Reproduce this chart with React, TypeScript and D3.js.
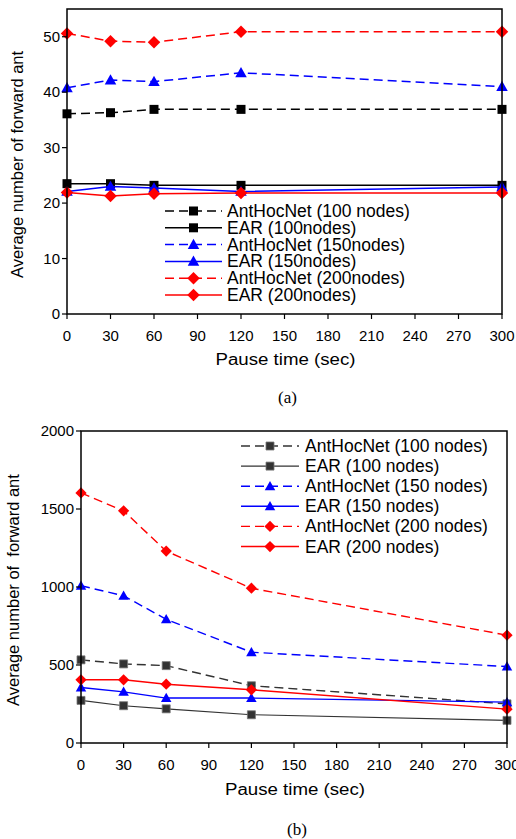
import * as d3 from 'd3';

const PAUSE = [0, 30, 60, 120, 300];
const X_TICKS = [0, 30, 60, 90, 120, 150, 180, 210, 240, 270, 300];

// (a) top panel
const A_ANT100 = [36.1, 36.3, 36.9, 36.9, 36.9];
const A_EAR100 = [23.5, 23.5, 23.2, 23.2, 23.2];
const A_ANT150 = [40.8, 42.2, 41.9, 43.5, 41.0];
const A_EAR150 = [22.1, 23.0, 22.7, 22.1, 22.9];
const A_ANT200 = [50.6, 49.2, 49.0, 50.9, 50.9];
const A_EAR200 = [21.9, 21.3, 21.7, 21.8, 21.8];
const A_Y_TICKS = [0, 10, 20, 30, 40, 50];
const A_LABELS = [
  'AntHocNet (100 nodes)', 'EAR (100nodes)', 'AntHocNet (150nodes)',
  'EAR (150nodes)', 'AntHocNet (200nodes)', 'EAR (200nodes)',
];

// (b) bottom panel
const B_ANT100 = [533, 507, 496, 367, 251];
const B_EAR100 = [273, 239, 219, 181, 145];
const B_ANT150 = [1008, 944, 793, 582, 490];
const B_EAR150 = [356, 328, 288, 288, 262];
const B_ANT200 = [1603, 1488, 1230, 992, 691];
const B_EAR200 = [405, 405, 377, 341, 217];
const B_Y_TICKS = [0, 500, 1000, 1500, 2000];
const B_LABELS = [
  'AntHocNet (100 nodes)', 'EAR (100 nodes)', 'AntHocNet (150 nodes)',
  'EAR (150 nodes)', 'AntHocNet (200 nodes)', 'EAR (200 nodes)',
];

const SANS = '"Liberation Sans", Arial, sans-serif';
const SERIF = '"Liberation Serif", "Times New Roman", serif';

type Series = { vals: number[]; color: string; dashed: boolean; shape: string; width: number; stroke?: string };

function marker(shape: string, s: number) {
  if (shape === 'square') return `M${-s},${-s}H${s}V${s}H${-s}Z`;
  if (shape === 'tri') return `M0,${-s * 1.05}L${s * 1.05},${s * 0.8}L${-s * 1.05},${s * 0.8}Z`;
  return `M0,${-s * 1.25}L${s * 1.25},0L0,${s * 1.25}L${-s * 1.25},0Z`;
}

function Panel(props: {
  series: Series[]; labels: string[]; yTicks: number[]; yMax: number;
  left: number; right: number; top: number; bottom: number;
  mSize: number[]; legend: { x1: number; x2: number; tx: number; y0: number; dy: number };
  yTitle: string; yTitleX: number; xTitleY: number; caption: string; captionY: number;
}) {
  const { series, labels, yTicks, left, right, top, bottom, legend } = props;
  const x = d3.scaleLinear().domain([0, 300]).range([left, right]);
  const y = d3.scaleLinear().domain([0, props.yMax]).range([bottom, top]);
  const line = d3.line<number>().x((_, i) => x(PAUSE[i])).y(d => y(d));
  const sizes: Record<string, number> = { square: props.mSize[0], tri: props.mSize[1], diamond: props.mSize[2] };

  return (
    <g>
      {series.map((s, k) => (
        <g key={k}>
          <path d={line(s.vals) || ''} fill="none" stroke={s.color} strokeWidth={s.width}
            strokeDasharray={s.dashed ? '9,5' : undefined} />
          {s.vals.map((v, i) => (
            <path key={i} transform={`translate(${x(PAUSE[i])},${y(v)})`}
              d={marker(s.shape, sizes[s.shape])} fill={s.color} stroke={s.stroke || 'none'} strokeWidth={0.8} />
          ))}
        </g>
      ))}
      <rect x={left} y={top} width={right - left} height={bottom - top} fill="none" stroke="#000" strokeWidth={1.5} />
      {X_TICKS.map(t => (
        <g key={t}>
          <line x1={x(t)} x2={x(t)} y1={bottom} y2={bottom + 5} stroke="#000" strokeWidth={1.2} />
          <text x={x(t)} y={bottom + 27} textAnchor="middle" fontSize={15} fontFamily={SANS}>{t}</text>
        </g>
      ))}
      {yTicks.map(t => (
        <g key={t}>
          <line x1={left - 5} x2={left} y1={y(t)} y2={y(t)} stroke="#000" strokeWidth={1.2} />
          <text x={left - 7} y={y(t) + 5} textAnchor="end" fontSize={15} fontFamily={SANS}>{t}</text>
        </g>
      ))}
      <text x={(left + right) / 2 + 1} y={props.xTitleY} textAnchor="middle" fontSize={16} fontFamily={SANS}
        textLength={140} lengthAdjust="spacingAndGlyphs">Pause time (sec)</text>
      <text transform={`translate(${props.yTitleX},${(top + bottom) / 2 + 3}) rotate(-90)`} textAnchor="middle"
        fontSize={16.5} fontFamily={SANS} style={{ whiteSpace: 'pre' }}>{props.yTitle}</text>
      <text x={(left + right) / 2 + 3} y={props.captionY} textAnchor="middle" fontSize={17} fontFamily={SERIF}>{props.caption}</text>
      {series.map((s, k) => {
        const ry = legend.y0 + k * legend.dy;
        const mx = (legend.x1 + legend.x2) / 2;
        return (
          <g key={'lg' + k}>
            <line x1={legend.x1} x2={legend.x2} y1={ry} y2={ry} stroke={s.color} strokeWidth={s.width}
              strokeDasharray={s.dashed ? '9,5' : undefined} />
            <path transform={`translate(${mx},${ry})`} d={marker(s.shape, sizes[s.shape])} fill={s.color}
              stroke={s.stroke || 'none'} strokeWidth={0.8} />
            <text x={legend.tx} y={ry + 6} fontSize={17.5} fontFamily={SANS}>{labels[k]}</text>
          </g>
        );
      })}
    </g>
  );
}

export default function App() {
  const aSeries: Series[] = [
    { vals: A_ANT100, color: '#000', dashed: true, shape: 'square', width: 1.5 },
    { vals: A_EAR100, color: '#000', dashed: false, shape: 'square', width: 1.5 },
    { vals: A_ANT150, color: '#0000ff', dashed: true, shape: 'tri', width: 1.5 },
    { vals: A_EAR150, color: '#0000ff', dashed: false, shape: 'tri', width: 1.5 },
    { vals: A_ANT200, color: '#ff0000', dashed: true, shape: 'diamond', width: 1.5 },
    { vals: A_EAR200, color: '#ff0000', dashed: false, shape: 'diamond', width: 1.5 },
  ];
  const bSeries: Series[] = [
    { vals: B_ANT100, color: '#333', dashed: true, shape: 'square', width: 1.4, stroke: '#777' },
    { vals: B_EAR100, color: '#333', dashed: false, shape: 'square', width: 1.1, stroke: '#777' },
    { vals: B_ANT150, color: '#0000ff', dashed: true, shape: 'tri', width: 1.4 },
    { vals: B_EAR150, color: '#0000ff', dashed: false, shape: 'tri', width: 1.4 },
    { vals: B_ANT200, color: '#ff0000', dashed: true, shape: 'diamond', width: 1.4 },
    { vals: B_EAR200, color: '#ff0000', dashed: false, shape: 'diamond', width: 1.4 },
  ];
  return (
    <svg width={516} height={839} style={{ position: 'absolute', left: 0, top: 0, background: '#fff' }}>
      <Panel series={aSeries} labels={A_LABELS} yTicks={A_Y_TICKS} yMax={55}
        left={67} right={502} top={9} bottom={314} mSize={[4.5, 5.5, 5]}
        legend={{ x1: 165, x2: 222, tx: 227, y0: 211, dy: 16.8 }}
        yTitle="Average number of forward ant" yTitleX={23} xTitleY={365} caption="(a)" captionY={403} />
      <Panel series={bSeries} labels={B_LABELS} yTicks={B_Y_TICKS} yMax={2000}
        left={81} right={507} top={431} bottom={743} mSize={[4, 5, 4.5]}
        legend={{ x1: 241, x2: 299, tx: 305, y0: 446, dy: 20.1 }}
        yTitle="Average number of  forward ant" yTitleX={19} xTitleY={795} caption="(b)" captionY={835} />
    </svg>
  );
}
